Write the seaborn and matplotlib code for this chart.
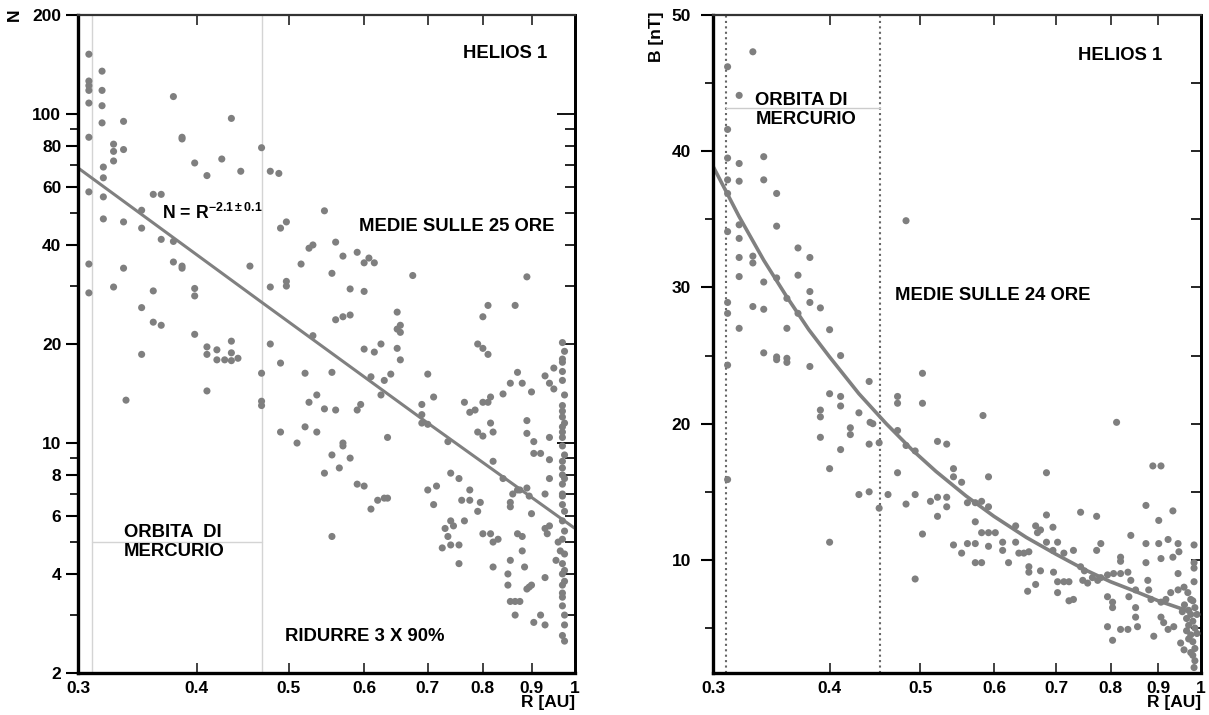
import numpy as np
import pandas as pd
import seaborn as sns
import matplotlib
matplotlib.use("Agg")
import matplotlib.pyplot as plt
from matplotlib.ticker import FixedLocator, NullLocator, NullFormatter, FixedFormatter

# ---------------- data ----------------
# Left panel: proton density N vs R (HELIOS 1, 25 h averages)
left_r = [0.308,0.318,0.308,0.308,0.308,0.318,0.308,0.318,0.318,0.308,0.335,0.327,0.327,0.335,0.327,0.319,0.319,0.308,0.319,0.319,
          0.335,0.35,0.35,0.36,0.367,0.378,0.386,0.386,0.398,0.41,0.425,0.435,0.445,0.468,0.478,0.488,0.497,0.49,0.367,0.378,
          0.378,0.386,0.386,0.308,0.308,0.335,0.327,0.36,0.35,0.36,0.367,0.398,0.398,0.455,0.478,0.497,0.497,0.398,0.41,0.41,
          0.42,0.435,0.435,0.478,0.35,0.42,0.428,0.435,0.442,0.49,0.468,0.41,0.337,0.468,0.468,0.49,0.51,
          0.545,0.525,0.53,0.56,0.515,0.57,0.59,0.6,0.607,0.615,0.555,0.58,0.6,0.675,0.89,0.81,0.865,0.8,0.65,0.56,0.57,0.58,
          0.53,0.65,0.655,0.655,0.79,0.8,0.81,0.6,0.615,0.625,0.65,0.97,0.97,
          0.52,0.555,0.61,0.63,0.64,0.7,0.655,0.87,0.855,0.88,0.9,0.93,0.94,0.95,0.97,0.95,0.97,0.535,0.525,0.545,0.56,0.59,
          0.595,0.625,0.69,0.69,0.69,0.7,0.71,0.735,0.765,0.775,0.785,0.8,0.815,0.81,0.84,0.79,0.8,0.82,0.815,0.82,0.84,0.87,
          0.86,0.875,0.89,0.895,0.855,0.855,0.89,0.89,0.905,0.905,0.92,0.94,0.97,0.97,0.97,0.94,0.97,0.97,0.97,0.94,0.93,0.9,
          0.93,0.94,0.935,0.96,0.965,0.955,0.97,0.97,0.97,0.975,0.93,0.9,0.89,0.895,0.97,0.97,0.975,0.97,0.97,0.97,0.97,0.92,
          0.93,0.905,0.97,0.975,0.88,0.885,0.865,0.855,0.875,0.865,0.85,0.85,0.855,0.82,0.82,0.83,0.815,0.8,0.87,0.88,0.795,
          0.775,0.76,0.765,0.74,0.73,0.745,0.735,0.725,0.74,0.755,0.755,0.7,0.715,0.71,0.74,0.755,0.775,0.79,0.59,0.6,0.62,
          0.63,0.635,0.61,0.555,0.565,0.545,0.57,0.57,0.58,0.555,0.635,0.535,0.52,
          0.975,0.97,0.975,0.97,0.975,0.97,0.975,0.97,0.975,0.97,0.975,0.97,0.975,0.97,0.975,0.975,0.97,0.975]
left_n = [152,135,126,122,118,118,108,106,94,85,95,81,77,78,72,69,64,58,56,48,
          47,45,51,57,57,113,85,84,71,65,73,97,67,79,67,66,47,45,41.6,41,
          35.5,34.5,34,35,28.6,34,29.8,29,25.8,23.3,22.8,29.5,28,34.5,29.8,31,30,21.4,19.6,18.6,
          19.2,20.4,18.8,20,18.6,17.9,17.9,17.8,18.1,17.5,16.3,14.4,13.5,13.4,13.0,10.8,10.0,
          50.8,39.1,40,40.8,35,37,38,35.3,36.5,35.3,32.8,29.4,28.9,32.3,32,26.2,26.2,24.2,25,23.7,24.2,24.5,
          21.2,22.2,21.7,22.8,20,19.4,18.6,19.3,18.9,20,19.4,20.2,18,
          16.3,16.4,15.9,15.5,16.2,16.2,17.9,16.4,15.2,15.2,14.3,16,15.2,14.6,15.5,16.9,17.6,14.0,13.3,12.7,12.6,12.6,
          13.1,14,13.1,12.2,11.5,11.4,13.8,10.1,13.3,12.4,12.6,13.3,13.8,13.3,14.1,10.8,10.5,10.8,11.5,8.8,7.8,7.2,
          7.0,7.2,7.3,6.9,6.6,6.4,11.7,10.7,10.1,9.3,9.3,8.9,10.4,9.8,8.4,7.8,12,11.2,13,10.4,7.0,6.1,
          5.5,5.6,5.3,5.0,4.7,4.4,4.3,4.0,3.7,4.1,3.9,3.7,3.6,3.65,3.5,3.2,3.0,6.5,7.0,7.5,8.0,3.0,
          2.8,2.85,2.6,2.5,4.7,4.2,3.3,3.3,3.3,3.0,4.0,3.7,4.4,4.2,5.0,5.1,5.3,5.3,5.3,5.2,6.6,
          6.7,6.7,5.8,5.8,5.5,5.6,5.2,4.8,4.9,4.9,4.3,7.2,7.4,6.5,8.1,7.8,7.2,6.2,7.5,7.4,6.7,
          6.8,6.8,6.3,9.2,8.4,8.1,10.0,9.8,9.0,5.2,10.4,10.8,11.2,
          19,16.5,14,12.5,11.5,10.8,9.2,8.8,7.8,6.9,6.2,5.8,5.4,5.1,4.6,3.8,3.4,2.8]

# fitted power law N = R^-2.1 (line as drawn)
left_fit_r = [0.3, 0.468, 0.7, 1.0]
left_fit_n = [68.6, 26.8, 11.5, 5.5]

# Right panel: magnetic field B vs R (HELIOS 1, 24 h averages)
right_r = [0.311,0.331,0.320,0.311,0.311,0.320,0.340,0.311,0.320,0.340,0.311,0.351,0.320,0.351,0.311,0.320,0.370,0.320,0.331,0.331,
           0.381,0.340,0.320,0.351,0.370,0.381,0.311,0.311,0.331,0.340,0.381,0.360,0.370,0.391,0.320,0.360,0.400,0.340,0.351,0.360,
           0.411,0.483,
           0.311,0.351,0.360,0.381,0.441,0.503,0.400,0.411,0.411,0.473,0.473,0.503,0.391,0.391,0.430,0.442,0.445,0.421,0.421,0.391,
           0.473,0.452,0.441,0.522,0.483,0.494,0.411,0.400,0.473,0.311,0.430,0.441,0.462,0.494,0.483,0.522,0.513,0.452,0.522,0.503,
           0.400,0.494,
           0.584,0.812,0.534,0.543,0.543,0.554,0.592,0.683,0.888,0.906,0.534,0.534,0.562,0.573,0.582,0.592,0.573,0.582,0.592,0.602,
           0.543,0.554,0.562,0.573,0.573,0.582,0.592,0.613,0.613,0.622,0.633,0.633,0.638,0.646,0.654,0.665,0.673,0.668,0.694,0.683,
           0.654,0.654,0.673,0.665,0.652,0.683,0.702,0.694,0.713,0.730,0.743,0.773,0.781,0.773,0.695,0.702,0.713,0.722,0.702,0.722,
           0.730,0.743,0.750,0.747,0.756,0.765,0.775,0.781,0.794,0.806,0.820,0.835,0.841,0.820,0.820,0.841,0.794,0.794,0.804,0.804,
           0.804,0.820,0.835,0.837,0.851,0.851,0.851,0.855,0.873,0.873,0.873,0.877,0.879,0.884,0.890,0.901,0.901,0.906,0.922,0.933,
           0.933,0.945,0.947,0.945,0.906,0.912,0.922,0.906,0.917,0.928,0.945,0.959,0.968,0.975,0.983,0.983,0.983,0.983,0.935,0.983,
           0.951,0.959,0.975,0.98,0.985,0.975,0.98,0.985,0.975,0.98,0.985,0.98,0.985,0.97,0.965,0.97,0.965,0.97,0.99,0.99,0.96,0.955]
right_b = [46.2,47.3,44.1,41.6,39.5,39.1,39.6,37.9,37.8,37.9,36.9,36.9,34.6,34.5,34.1,33.6,32.9,32.2,32.3,31.8,
           32.2,30.4,30.8,30.7,30.9,29.7,28.9,28.1,28.6,28.4,28.9,29.2,28.1,28.5,27.0,27.0,26.9,25.2,24.9,24.8,
           25.0,34.9,
           24.3,24.7,24.5,24.2,23.1,23.7,22.2,22.0,21.3,22.0,21.5,21.5,21.0,20.5,20.8,20.1,20.0,19.7,19.2,19.0,
           19.5,18.6,18.5,18.7,18.4,18.0,18.1,16.7,16.4,15.9,14.8,15.0,14.8,14.8,14.1,14.6,14.3,13.8,13.2,11.9,
           11.3,8.6,
           20.6,20.1,18.5,16.7,16.1,15.7,16.1,16.4,16.9,16.9,14.6,13.9,14.2,14.2,14.3,13.9,12.8,12.0,12.0,12.0,
           11.1,10.5,11.2,11.2,9.8,9.8,11.0,11.3,10.7,9.8,12.5,11.3,10.5,10.5,10.6,12.5,12.2,12.0,12.4,13.3,
           9.5,9.1,9.2,8.2,7.7,11.3,11.3,10.7,10.5,10.7,13.5,13.2,11.2,10.7,9.1,8.4,8.4,8.4,7.6,7.0,
           7.1,9.5,9.2,8.5,8.3,8.7,8.5,8.7,8.9,9.0,9.0,9.1,8.5,10.2,9.9,11.8,7.3,5.1,6.9,6.5,
           4.1,4.9,4.9,7.3,7.8,6.5,5.8,5.1,14.0,11.2,9.8,8.5,7.8,7.1,4.4,12.9,11.2,10.1,11.5,13.6,
           10.2,11.2,10.6,9.0,5.8,5.4,4.9,6.9,7.1,7.6,7.8,8.0,7.6,7.1,11.1,9.8,9.4,8.4,5.1,2.1,
           3.9,3.4,3.2,7.0,6.5,6.0,5.5,5.0,4.5,4.0,3.5,3.0,2.6,6.3,5.7,5.2,4.8,4.2,6.0,4.6,6.7,6.2]

# fitted curve as drawn
right_fit_r = [0.30,0.32,0.34,0.36,0.38,0.40,0.43,0.46,0.49,0.52,0.56,0.60,0.65,0.70,0.75,0.80,0.85,0.90,0.95,0.97]
right_fit_b = [38.9,35.2,32.0,29.3,26.9,24.9,22.2,20.0,18.1,16.5,14.7,13.2,11.65,10.4,9.3,8.4,7.7,7.0,6.45,6.25]

x_ticks = [0.3, 0.4, 0.5, 0.6, 0.7, 0.8, 0.9, 1.0]
x_ticklabels = ["0.3", "0.4", "0.5", "0.6", "0.7", "0.8", "0.9", "1"]
left_yticks = [2, 4, 6, 8, 10, 20, 40, 60, 80, 100, 200]
left_yminor = [3, 5, 7, 9, 30, 50, 70, 90]
right_yticks = [10, 20, 30, 40, 50]
right_yminor = [5, 15, 25, 35, 45]

mercury_left = [0.31, 0.468]
mercury_right = [0.31, 0.453]

# ---------------- styling ----------------
sns.set_style("ticks")
plt.rcParams['font.family'] = ['Liberation Sans', 'DejaVu Sans']
plt.rcParams['font.weight'] = 'bold'
plt.rcParams['text.color'] = 'black'
plt.rcParams['xtick.color'] = 'black'
plt.rcParams['ytick.color'] = 'black'
plt.rcParams['axes.edgecolor'] = 'black'
plt.rcParams['mathtext.fontset'] = 'custom'
plt.rcParams['mathtext.rm'] = 'Liberation Sans:bold'
plt.rcParams['mathtext.it'] = 'Liberation Sans:bold'
plt.rcParams['mathtext.bf'] = 'Liberation Sans:bold'

W, H = 1209, 715
fig = plt.figure(figsize=(W / 100, H / 100), dpi=100)
fig.patch.set_facecolor('white')

def ax_rect(x0, y0, x1, y1):
    return [x0 / W, 1 - y1 / H, (x1 - x0) / W, (y1 - y0) / H]

axL = fig.add_axes(ax_rect(78, 15, 575, 673))
axR = fig.add_axes(ax_rect(713, 15, 1201, 673))

PT = '#7f7f7f'
FS = 12.5     # tick labels
FA = 13.3     # annotations

def style(ax, yticks, yminor, ylog, ypad):
    ax.set_xscale('log')
    if ylog:
        ax.set_yscale('log')
    ax.xaxis.set_major_locator(FixedLocator(x_ticks))
    ax.xaxis.set_major_formatter(FixedFormatter(x_ticklabels))
    ax.xaxis.set_minor_locator(NullLocator())
    ax.yaxis.set_major_locator(FixedLocator(yticks))
    ax.yaxis.set_major_formatter(FixedFormatter([str(v) for v in yticks]))
    ax.yaxis.set_minor_locator(FixedLocator(yminor))
    ax.yaxis.set_minor_formatter(NullFormatter())
    ax.tick_params(axis='x', which='major', direction='in', top=True, bottom=True,
                   length=7, width=1.3, labelsize=FS, pad=6, color='#333333')
    ax.tick_params(axis='y', which='major', direction='out', left=True, right=False,
                   length=9, width=1.5, labelsize=FS, pad=ypad)
    ax.tick_params(axis='y', which='minor', direction='out', left=True, right=False,
                   length=6, width=1.2)
    for lab in ax.get_xticklabels() + ax.get_yticklabels():
        lab.set_fontweight('bold')
    ax.spines['left'].set_linewidth(2.4)
    ax.spines['bottom'].set_linewidth(2.4)
    ax.spines['top'].set_linewidth(1.6)
    ax.spines['top'].set_color('#333333')
    ax.spines['right'].set_linewidth(2.0)
    for s in ax.spines.values():
        s.set_visible(True)
    ax.set_xlabel('')
    ax.set_ylabel('')

# ---------------- left panel ----------------
axL.set_xscale('log'); axL.set_yscale('log')
axL.axvline(mercury_left[0], color='#d4d4d4', lw=1.0, zorder=0)
axL.axvline(mercury_left[1], color='#d4d4d4', lw=1.0, zorder=0)
axL.plot(mercury_left, [5.0, 5.0], color='#d4d4d4', lw=1.0, zorder=0)
sns.scatterplot(x=left_r, y=left_n, ax=axL, color=PT, s=26, linewidth=0, edgecolor='none', zorder=3)
sns.lineplot(x=left_fit_r, y=left_fit_n, ax=axL, color='#808080', lw=2.2, sort=False, estimator=None, zorder=2)
axL.set_xlim(0.3, 1.0)
axL.set_ylim(2, 200)
style(axL, left_yticks, left_yminor, True, 3)
secL = axL.secondary_yaxis('right')
secL.yaxis.set_major_locator(FixedLocator([10, 100]))
secL.yaxis.set_minor_locator(FixedLocator([3, 4, 5, 6, 7, 8, 9, 20, 30, 40, 50, 60, 70, 80, 90]))
secL.yaxis.set_major_formatter(NullFormatter())
secL.yaxis.set_minor_formatter(NullFormatter())
secL.tick_params(which='major', direction='in', length=13, width=1.3)
secL.tick_params(which='minor', direction='in', length=7, width=1.2)
secL.spines['right'].set_linewidth(2.0)

axL.text(0.844, 153, 'HELIOS 1', ha='center', va='center', fontsize=FA, fontweight='bold')
axL.text(0.593, 45.6, 'MEDIE SULLE 25 ORE', ha='left', va='center', fontsize=FA, fontweight='bold')
axL.text(0.368, 50, r'N = R$^{-2.1\pm0.1}$', ha='left', va='center', fontsize=12.8, fontweight='bold')
axL.text(0.335, 5.0, 'ORBITA  DI\nMERCURIO', ha='left', va='center', fontsize=FA,
         fontweight='bold', linespacing=1.15)
axL.text(0.495, 2.59, 'RIDURRE 3 X 90%', ha='left', va='center', fontsize=FA, fontweight='bold')

# ---------------- right panel ----------------
axR.set_xscale('log')
axR.axvline(mercury_right[0], color='#666666', lw=1.5, ls=(0, (1, 1.6)), zorder=0)
axR.axvline(mercury_right[1], color='#666666', lw=1.5, ls=(0, (1, 1.6)), zorder=0)
axR.plot(mercury_right, [43.2, 43.2], color='#cccccc', lw=1.0, zorder=0)
sns.scatterplot(x=right_r, y=right_b, ax=axR, color=PT, s=26, linewidth=0, edgecolor='none', zorder=3)
sns.lineplot(x=right_fit_r, y=right_fit_b, ax=axR, color='#808080', lw=2.6, sort=False, estimator=None, zorder=2)
axR.set_xlim(0.3, 1.0)
axR.set_ylim(1.7, 50)
style(axR, right_yticks, right_yminor, False, 7)
secR = axR.secondary_yaxis('right')
secR.yaxis.set_major_locator(FixedLocator(right_yticks))
secR.yaxis.set_minor_locator(FixedLocator(right_yminor))
secR.yaxis.set_major_formatter(NullFormatter())
secR.yaxis.set_minor_formatter(NullFormatter())
secR.tick_params(which='both', direction='in', length=7, width=1.2)
secR.spines['right'].set_linewidth(2.0)

axR.text(0.820, 47.0, 'HELIOS 1', ha='center', va='center', fontsize=FA, fontweight='bold')
axR.text(0.470, 29.4, 'MEDIE SULLE 24 ORE', ha='left', va='center', fontsize=FA, fontweight='bold')
axR.text(0.333, 43.0, 'ORBITA DI\nMERCURIO', ha='left', va='center', fontsize=FA,
         fontweight='bold', linespacing=1.15)

# axis labels
fig.text(14 / W, 1 - 15 / H, 'N', rotation=90, ha='center', va='center', fontsize=FS, fontweight='bold')
fig.text(657 / W, 1 - 12 / H, 'B [nT]', rotation=90, ha='center', va='top', fontsize=FS, fontweight='bold')
fig.text(575 / W, 1 - 703 / H, 'R [AU]', ha='right', va='center', fontsize=FS, fontweight='bold')
fig.text(1201 / W, 1 - 703 / H, 'R [AU]', ha='right', va='center', fontsize=FS, fontweight='bold')

fig.savefig('out.png', dpi=100, facecolor='white')
